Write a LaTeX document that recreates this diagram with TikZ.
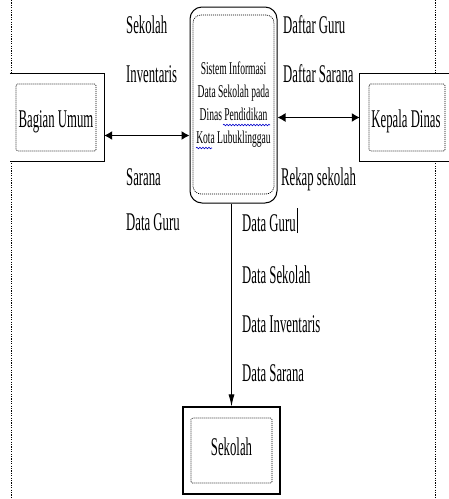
\documentclass[tikz,border=0pt]{standalone}
\usepackage{fontspec}
\setmainfont{Liberation Serif}
\newfontfamily\lblfont{Liberation Serif}[FakeStretch=0.5]
\newfontfamily\prosesfont{Liberation Serif}[FakeStretch=0.53]
\usetikzlibrary{arrows.meta,decorations.pathmorphing}

\tikzset{
  margin/.style={line width=0.6pt, dash pattern=on 1.2pt off 1.2pt},
  luar/.style={fill=white, inner sep=0pt, minimum height=87pt},
  dalam/.style={draw, line width=0.7pt, dash pattern=on 1pt off 1pt, rounded corners=1.5pt, inner sep=0pt},
  teks/.style={inner sep=0pt, anchor=base west, font=\lblfont\fontsize{25.5}{28}\selectfont},
  nama/.style={inner sep=0pt, anchor=base, font=\lblfont\fontsize{25.5}{30}\selectfont},
  dua arah/.style={line width=1.2pt, {Latex[length=8pt,width=9pt]}-{Latex[length=8pt,width=9pt]}},
  alir/.style={line width=0.8pt, -{Latex[length=12pt,width=6pt]}},
  ejaan/.style={draw=blue!80!black, line width=0.6pt, decorate, decoration={snake, amplitude=0.8pt, segment length=3pt}},
}

\begin{document}
\begin{tikzpicture}[x=1pt,y=-1pt]
  \useasboundingbox (0,0) rectangle (449,499);

  % garis tepi halaman
  \draw[margin] (11,0) -- (11,497);
  \draw[margin] (435,0) -- (435,497);

  % proses
  \node[draw, line width=1pt, rounded corners=12pt, minimum width=87pt, minimum height=196pt, fill=white, inner sep=0pt] (proses) at (233.5,105) {};
  \node[dalam, rounded corners=8pt, minimum width=81pt, minimum height=179pt] (proses-in) at (233.5,104.5) {};
  \node[align=center, inner sep=0pt, font=\prosesfont\fontsize{18}{23}\selectfont] (proses-teks) at (233.5,105) {Sistem Informasi\\Data Sekolah pada\\Dinas Pendidikan\\Kota Lubuklinggau};
  \draw[ejaan] (223,125) -- (270,125);
  \draw[ejaan] (196,148) -- (212,148);

  % entitas
  \node[luar, minimum width=94pt] (bagian) at (57,117.5) {};
  \draw[line width=1.2pt] (bagian.north west) -| (bagian.south east) -- (bagian.south west);
  \node[dalam, minimum width=80pt, minimum height=67pt] (bagian-in) at (56,117.5) {};
  \node[nama] (bagian-teks) at (56,127) {Bagian Umum};

  \node[luar, minimum width=89pt] (kepala) at (404.5,117.5) {};
  \draw[line width=1.2pt] (kepala.north east) -| (kepala.south west) -- (kepala.south east);
  \node[dalam, minimum width=76pt, minimum height=67pt] (kepala-in) at (407,117.5) {};
  \node[nama] (kepala-teks) at (406,127) {Kepala Dinas};

  \node[luar, draw, line width=1.2pt, minimum width=97pt] (sekolah) at (231.5,450.5) {};
  \node[dalam, minimum width=81pt, minimum height=65pt] (sekolah-in) at (231.5,450.5) {};
  \node[nama] (sekolah-teks) at (231.5,455) {Sekolah};

  % arus data
  \draw[dua arah] ([yshift=-18pt]bagian.east) coordinate (a) -- (a -| proses.west);
  \draw[dua arah] (proses.east |- kepala.west) -- (kepala.west);
  \draw[alir] (sekolah.north |- proses.south) -- (sekolah.north);

  \node[teks] (l-sekolah) at (126,33) {Sekolah};
  \node[teks] (l-inventaris) at (126,82) {Inventaris};
  \node[teks] (l-sarana) at (126,185) {Sarana};
  \node[teks] (l-guru) at (126,230) {Data Guru};
  \node[teks] (r-guru) at (283,33) {Daftar Guru};
  \node[teks] (r-sarana) at (283,82) {Daftar Sarana};
  \node[teks] (r-rekap) at (281,185) {Rekap sekolah};
  \node[teks] (d-guru) at (242,231) {Data Guru};
  \node[teks] (d-sekolah) at (242,283) {Data Sekolah};
  \node[teks] (d-inventaris) at (242,332) {Data Inventaris};
  \node[teks] (d-sarana) at (242,381) {Data Sarana};

  % kursor
  \draw[line width=0.8pt] ([xshift=1.5pt,yshift=-2pt]d-guru.base east) -- ++(0,-25);
\end{tikzpicture}
\end{document}
